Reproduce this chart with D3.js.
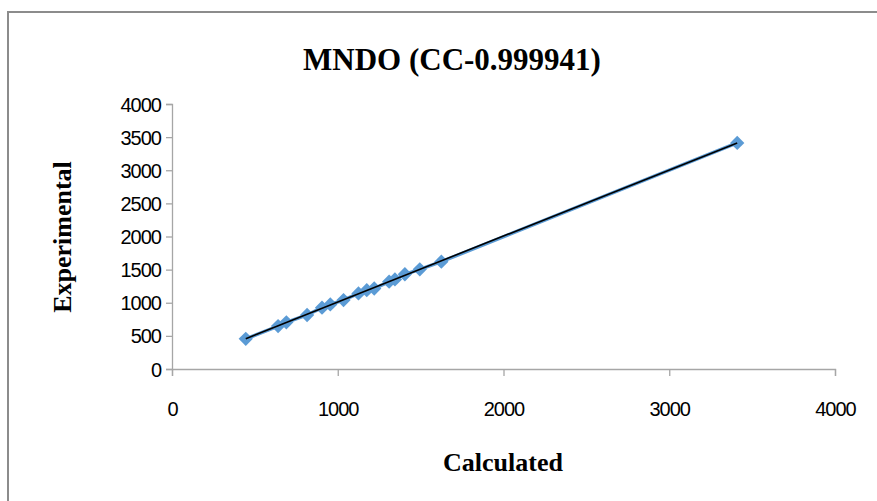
<!DOCTYPE html>
<html>
<head>
<meta charset="utf-8">
<script src="https://cdn.jsdelivr.net/npm/d3@7"></script>
<style>
  html, body { margin: 0; padding: 0; background: #fff; }
  svg { display: block; }
</style>
</head>
<body>
<svg id="chart" width="877" height="501"></svg>
<script>
const chartTitle = "MNDO (CC-0.999941)";
const xTitle = "Calculated";
const yTitle = "Experimental";
const calculated = [445, 640, 690, 815, 905, 955, 1035, 1125, 1175, 1220, 1310, 1345, 1405, 1495, 1625, 3410];
const experimental = [455, 648, 705, 815, 925, 975, 1040, 1140, 1190, 1215, 1318, 1352, 1430, 1505, 1620, 3412];
const xTicks = [0, 1000, 2000, 3000, 4000];
const yTicks = [0, 500, 1000, 1500, 2000, 2500, 3000, 3500, 4000];

const svg = d3.select("#chart");
const W = 877, H = 501;
svg.append("rect").attr("x", 0).attr("y", 0).attr("width", W).attr("height", H).attr("fill", "#fff");
// outer frame (extends past right/bottom edge)
svg.append("rect").attr("x", 8).attr("y", 12).attr("width", W + 20).attr("height", H + 20)
  .attr("fill", "none").attr("stroke", "#8c8c8c").attr("stroke-width", 2);

const x = d3.scaleLinear().domain([0, 4000]).range([172, 835]);
const y = d3.scaleLinear().domain([0, 4000]).range([369, 104]);

const axisColor = "#a6a6a6";
const tickFont = "'Liberation Sans', Arial, sans-serif";
const gx = svg.append("g").attr("transform", `translate(0,${y(0)})`)
  .call(d3.axisBottom(x).tickValues(xTicks).tickSize(7).tickPadding(26).tickFormat(d3.format("d")));
const gy = svg.append("g").attr("transform", `translate(${x(0)},0)`)
  .call(d3.axisLeft(y).tickValues(yTicks).tickSize(6).tickPadding(5).tickFormat(d3.format("d")));
[gx, gy].forEach(g => {
  g.select(".domain").attr("stroke", axisColor).attr("stroke-width", 1.3);
  g.selectAll(".tick line").attr("stroke", axisColor).attr("stroke-width", 1.3);
  g.selectAll(".tick text").attr("fill", "#000")
    .style("font-family", tickFont).style("font-size", "20px").style("letter-spacing", "-1px");
});
gy.selectAll(".tick text").attr("dy", "0.35em");

const pts = calculated.map((c, i) => ({ c, e: experimental[i] }));

// series line (blue)
svg.append("path").datum(pts)
  .attr("d", d3.line().x(d => x(d.c)).y(d => y(d.e)))
  .attr("fill", "none").attr("stroke", "#5b9bd5").attr("stroke-width", 3.5);

// markers
const sym = d3.symbol().type(d3.symbolDiamond2).size(130);
svg.append("g").selectAll("path").data(pts).join("path")
  .attr("d", sym)
  .attr("transform", d => `translate(${x(d.c)},${y(d.e)})`)
  .attr("fill", "#5b9bd5");

// linear trendline (least squares)
const mx = d3.mean(calculated), my = d3.mean(experimental);
const sxy = d3.sum(pts, d => (d.c - mx) * (d.e - my));
const sxx = d3.sum(pts, d => (d.c - mx) * (d.c - mx));
const slope = sxy / sxx, icpt = my - slope * mx;
const [x0, x1] = d3.extent(calculated);
svg.append("line")
  .attr("x1", x(x0)).attr("y1", y(slope * x0 + icpt))
  .attr("x2", x(x1)).attr("y2", y(slope * x1 + icpt))
  .attr("stroke", "#000").attr("stroke-width", 1.6);

// titles
const serif = "'Liberation Serif', 'Times New Roman', serif";
svg.append("text").attr("x", 452).attr("y", 70).attr("text-anchor", "middle")
  .style("font-family", serif).style("font-weight", "bold").style("font-size", "31px")
  .text(chartTitle);
svg.append("text").attr("x", 503).attr("y", 471).attr("text-anchor", "middle")
  .style("font-family", serif).style("font-weight", "bold").style("font-size", "26px")
  .text(xTitle);
svg.append("text").attr("transform", "translate(71,237) rotate(-90)").attr("text-anchor", "middle")
  .style("font-family", serif).style("font-weight", "bold").style("font-size", "26px")
  .text(yTitle);
</script>
</body>
</html>
